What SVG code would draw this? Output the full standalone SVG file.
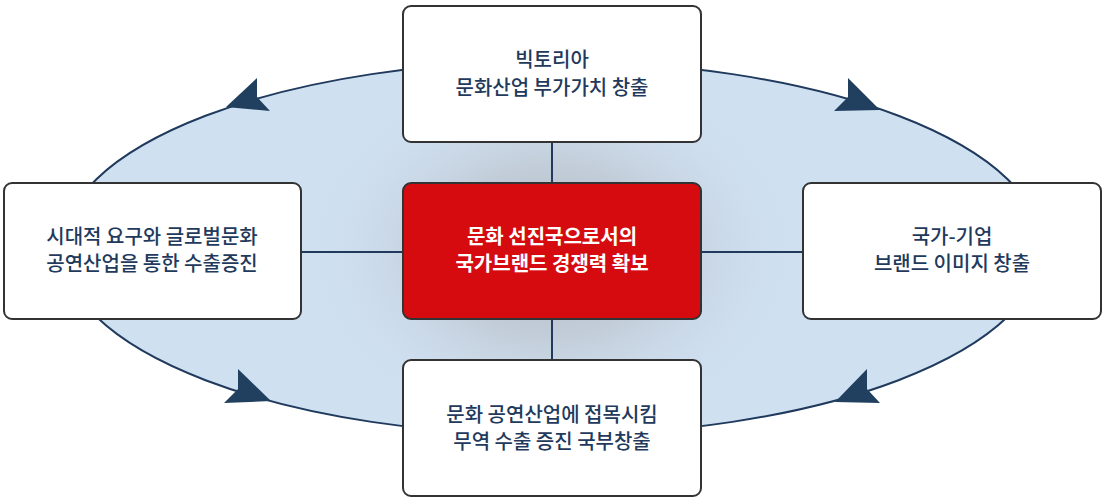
<svg xmlns="http://www.w3.org/2000/svg" width="1106" height="502" viewBox="0 0 1106 502">
<defs>
<radialGradient id="glow" cx="552" cy="251" r="250" gradientUnits="userSpaceOnUse" gradientTransform="translate(552 251) scale(1 0.75) translate(-552 -251)">
<stop offset="0" stop-color="#b4bbc4" stop-opacity="1"/>
<stop offset="0.45" stop-color="#bec6d0" stop-opacity="0.75"/>
<stop offset="1" stop-color="#cfdff0" stop-opacity="0"/>
</radialGradient>
<style>
.box{fill:#ffffff;stroke:#333333;stroke-width:2}
.core{fill:#d60b0f;stroke:#333333;stroke-width:2}
.lbl{font-family:"Noto Sans CJK KR","Noto Sans",sans-serif;font-size:20px;font-weight:500;fill:#1f3a5c;text-anchor:middle}
.lblw{font-family:"Noto Sans CJK KR","Noto Sans",sans-serif;font-size:20px;font-weight:700;fill:#ffffff;text-anchor:middle}
.conn{stroke:#1f3a5c;stroke-width:2;fill:none}
.head{fill:#21405f}
</style>
</defs>
<g id="cycle">
<ellipse cx="552" cy="248" rx="490" ry="187" fill="#cfe0f1" stroke="#1f3a5c" stroke-width="2"/>
<ellipse cx="552" cy="251" rx="400" ry="190" fill="url(#glow)"/>
<polygon class="head" points="226,107 257,78 257,97 270,111"/>
<polygon class="head" points="880,110 848,78 848,97 834,111"/>
<polygon class="head" points="271,401 238,369 238,389 224,403"/>
<polygon class="head" points="835,402 867,369 867,389 880,403"/>
</g>
<g id="connectors">
<line class="conn" x1="552" y1="142" x2="552" y2="183"/>
<line class="conn" x1="552" y1="319" x2="552" y2="360"/>
<line class="conn" x1="301" y1="252" x2="403" y2="252"/>
<line class="conn" x1="701" y1="252" x2="803" y2="252"/>
</g>
<g id="node-top">
<rect class="box" x="403" y="6" width="298" height="136" rx="8"/>
<text class="lbl" x="552" y="67">빅토리아</text>
<text class="lbl" x="552" y="95">문화산업 부가가치 창출</text>
</g>
<g id="node-left">
<rect class="box" x="4" y="183" width="297" height="136" rx="8"/>
<text class="lbl" x="152" y="244">시대적 요구와 글로벌문화</text>
<text class="lbl" x="152" y="271">공연산업을 통한 수출증진</text>
</g>
<g id="node-center">
<rect class="core" x="403" y="183" width="298" height="136" rx="8"/>
<text class="lblw" x="552" y="244">문화 선진국으로서의</text>
<text class="lblw" x="552" y="271">국가브랜드 경쟁력 확보</text>
</g>
<g id="node-right">
<rect class="box" x="803" y="183" width="298" height="136" rx="8"/>
<text class="lbl" x="952" y="244">국가-기업</text>
<text class="lbl" x="952" y="271">브랜드 이미지 창출</text>
</g>
<g id="node-bottom">
<rect class="box" x="403" y="360" width="298" height="136" rx="8"/>
<text class="lbl" x="552" y="422">문화 공연산업에 접목시킴</text>
<text class="lbl" x="552" y="449">무역 수출 증진 국부창출</text>
</g>
</svg>
